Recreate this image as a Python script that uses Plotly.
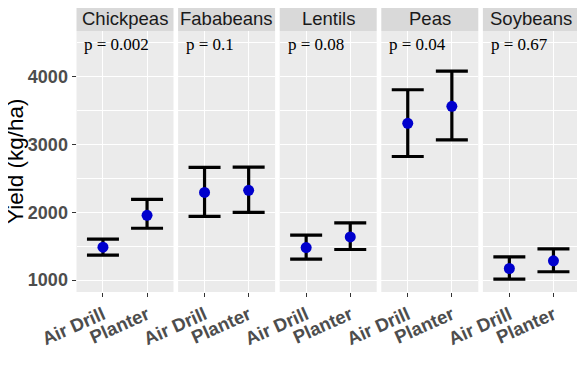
import plotly.graph_objects as go

crops = ["Chickpeas", "Fababeans", "Lentils", "Peas", "Soybeans"]
methods = ["Air Drill", "Planter"]
p_labels = ["p = 0.002", "p = 0.1", "p = 0.08", "p = 0.04", "p = 0.67"]

mean_air = [1485, 2294, 1480, 3314, 1171]
low_air = [1368, 1941, 1309, 2824, 1015]
up_air = [1603, 2662, 1662, 3809, 1343]

mean_pl = [1956, 2324, 1637, 3564, 1284]
low_pl = [1765, 2000, 1451, 3070, 1123]
up_pl = [2191, 2668, 1843, 4084, 1460]

yticks = [1000, 2000, 3000, 4000]

# page body has an 8px default margin; compensate so the figure fills the window
OFF = 8
W, H = 585 - OFF, 373 - OFF
px_left0 = 76.5 - OFF
px_step = 101.6
px_w = 97.0
plot_top, plot_bot = 31 - OFF, 292 - OFF
strip_top = 5 - OFF

fig = go.Figure()
layout = dict(
    width=W, height=H, autosize=False,
    margin=dict(l=0, r=0, t=0, b=0),
    paper_bgcolor="white", plot_bgcolor="#EBEBEB",
    showlegend=False,
    shapes=[], annotations=[],
)

tick_font = dict(family="Liberation Sans, Arial", size=18.5, color="#4D4D4D", weight="bold")

for i, crop in enumerate(crops):
    sfx = "" if i == 0 else str(i + 1)
    x0 = (px_left0 + i * px_step) / W
    x1 = (px_left0 + i * px_step + px_w) / W
    ymean = [mean_air[i], mean_pl[i]]
    eplus = [up_air[i] - mean_air[i], up_pl[i] - mean_pl[i]]
    eminus = [mean_air[i] - low_air[i], mean_pl[i] - low_pl[i]]
    fig.add_trace(go.Scatter(
        x=methods, y=ymean, mode="markers",
        xaxis="x" + sfx, yaxis="y" + sfx,
        marker=dict(color="#0000CD", size=11),
        error_y=dict(type="data", symmetric=False, array=eplus, arrayminus=eminus,
                     color="black", thickness=3.2, width=16),
    ))
    layout["xaxis" + sfx] = dict(
        domain=[x0, x1], anchor="y" + sfx, type="category", automargin=False,
        categoryorder="array", categoryarray=methods, range=[-0.6, 1.6],
        showgrid=True, gridcolor="white", gridwidth=1.2,
        ticks="outside", ticklen=4, tickcolor="#333333", tickwidth=1,
        tickangle=-24, tickfont=tick_font, zeroline=False, showline=False,
    )
    ya = dict(
        domain=[1 - plot_bot / H, 1 - plot_top / H], anchor="x" + sfx, automargin=False,
        range=[824, 4676], tickvals=yticks,
        showgrid=True, gridcolor="white", gridwidth=1.2, zeroline=False,
        minor=dict(dtick=500, tick0=500, showgrid=True, gridcolor="white", gridwidth=0.6, ticklen=0),
    )
    if i == 0:
        ya.update(ticks="outside", ticklen=4, tickcolor="#333333", tickwidth=1,
                  tickfont=dict(tick_font, size=18), showticklabels=True)
    else:
        ya.update(matches="y", showticklabels=False, ticks="")
    layout["yaxis" + sfx] = ya
    # strip
    layout["shapes"].append(dict(
        type="rect", xref="paper", yref="paper",
        x0=x0, x1=x1, y0=1 - plot_top / H, y1=min(1.0, 1 - strip_top / H),
        fillcolor="#D9D9D9", line=dict(width=0), layer="below",
    ))
    layout["annotations"].append(dict(
        text=crop, xref="paper", yref="paper", x=(x0 + x1) / 2,
        y=1 - (plot_top + strip_top) / 2 / H, xanchor="center", yanchor="middle",
        showarrow=False, font=dict(family="Liberation Sans, Arial", size=18.5, color="#1A1A1A"),
    ))
    layout["annotations"].append(dict(
        text=p_labels[i], xref="x" + sfx + " domain", yref="y" + sfx + " domain",
        x=0.06, y=0.95, xanchor="left", yanchor="middle", showarrow=False,
        font=dict(family="Liberation Serif, Times New Roman", size=17, color="black"),
    ))

layout["annotations"].append(dict(
    text="Yield (kg/ha)", xref="paper", yref="paper", x=(15 - OFF) / W, y=1 - (162 - OFF) / H,
    xanchor="center", yanchor="middle", textangle=-90, showarrow=False, borderpad=0,
    font=dict(family="Liberation Sans, Arial", size=22.5, color="black"),
))

fig.update_layout(**layout)
fig.write_html("out.html")
